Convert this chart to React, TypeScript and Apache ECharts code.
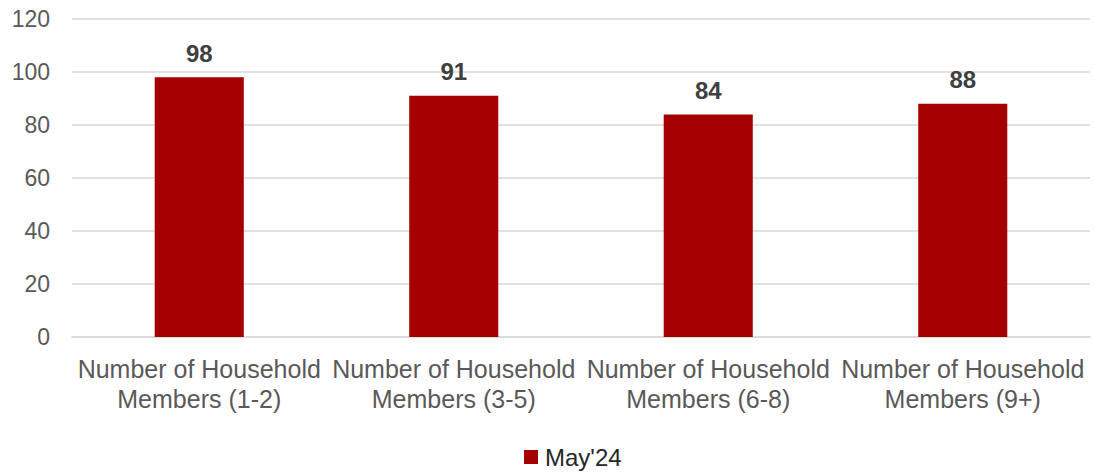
import React, { useEffect, useRef } from "react";
import * as echarts from "echarts";

const categories = [
  "Number of Household\nMembers (1-2)",
  "Number of Household\nMembers (3-5)",
  "Number of Household\nMembers (6-8)",
  "Number of Household\nMembers (9+)",
];
const seriesName = "May'24";
const values = [98, 91, 84, 88];
const yMin = 0;
const yMax = 120;
const yInterval = 20;

const FONT = "Liberation Sans, Arial, sans-serif";

export default function App() {
  const ref = useRef<HTMLDivElement>(null);
  useEffect(() => {
    document.body.style.margin = "0";
    if (!ref.current) return;
    const chart = echarts.init(ref.current, null, { renderer: "svg" });
    chart.setOption({
      animation: false,
      backgroundColor: "#ffffff",
      textStyle: { fontFamily: FONT },
      grid: { left: 72, right: 4, top: 19, bottom: 135, containLabel: false },
      legend: {
        data: [seriesName],
        left: 524,
        top: 444,
        padding: 0,
        itemWidth: 14,
        itemHeight: 14,
        icon: "rect",
        itemGap: 6,
        textStyle: { fontSize: 24, lineHeight: 26, color: "#262626", fontFamily: FONT, padding: [0, 0, 0, 2] },
      },
      xAxis: {
        type: "category",
        data: categories,
        axisLine: { show: true, lineStyle: { color: "#d9d9d9", width: 1.5 } },
        axisTick: { show: false },
        axisLabel: {
          interval: 0,
          margin: 17,
          fontSize: 25,
          lineHeight: 30,
          color: "#595959",
          fontFamily: FONT,
        },
      },
      yAxis: {
        type: "value",
        min: yMin,
        max: yMax,
        interval: yInterval,
        axisLine: { show: false },
        axisTick: { show: false },
        splitLine: { lineStyle: { color: "#d9d9d9", width: 1.5 } },
        axisLabel: {
          margin: 22,
          fontSize: 23,
          color: "#595959",
          fontFamily: FONT,
        },
      },
      series: [
        {
          name: seriesName,
          type: "bar",
          data: values,
          barWidth: "35%",
          itemStyle: { color: "#a50000" },
          label: {
            show: true,
            position: "top",
            distance: 12,
            fontSize: 24,
            fontWeight: "bold",
            color: "#404040",
            fontFamily: FONT,
          },
        },
      ],
    });
    return () => chart.dispose();
  }, []);
  return <div ref={ref} style={{ width: 1094, height: 472 }} />;
}
